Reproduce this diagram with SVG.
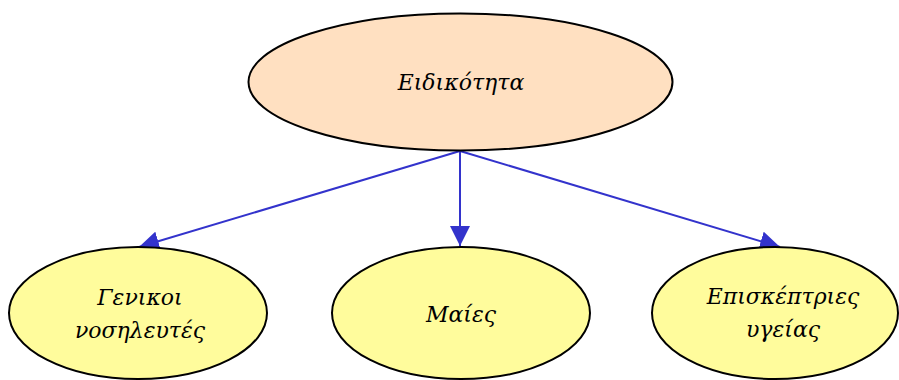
<svg xmlns="http://www.w3.org/2000/svg" width="899" height="380" viewBox="0 0 899 380">
<style>
.node ellipse{stroke:#000;stroke-width:2}
.top{fill:#FFE0C1}
.leaf{fill:#FFFC9C}
text{font-family:"DejaVu Serif",serif;font-style:italic;font-size:22px;fill:#000;text-anchor:middle}
.edge{stroke:#3333CC;stroke-width:2;fill:none;marker-end:url(#ah)}
</style>
<defs>
<marker id="ah" markerWidth="20" markerHeight="20" viewBox="0 0 20 20" refX="20" refY="10" orient="auto" markerUnits="userSpaceOnUse">
<path d="M0,0 L20,10 L0,20 Z" fill="#3333CC"/>
</marker>
</defs>
<g id="connectors">
<line class="edge" x1="460" y1="151" x2="139" y2="247"/>
<line class="edge" x1="460" y1="151" x2="460" y2="246"/>
<line class="edge" x1="460" y1="151" x2="780" y2="247"/>
</g>
<g id="n-eidikotita" class="node">
<ellipse class="top" cx="460.5" cy="82" rx="212" ry="68.5"/>
<text x="461" y="90">Ειδικότητα</text>
</g>
<g id="n-genikoi" class="node">
<ellipse class="leaf" cx="138" cy="313" rx="129" ry="66"/>
<text x="140" y="305">Γενικοι</text>
<text x="140" y="338">νοσηλευτές</text>
</g>
<g id="n-maies" class="node">
<ellipse class="leaf" cx="461" cy="313" rx="129" ry="66"/>
<text x="461" y="322">Μαίες</text>
</g>
<g id="n-episkeptries" class="node">
<ellipse class="leaf" cx="775" cy="313" rx="123" ry="66"/>
<text x="783" y="304">Επισκέπτριες</text>
<text x="783" y="337">υγείας</text>
</g>
</svg>
